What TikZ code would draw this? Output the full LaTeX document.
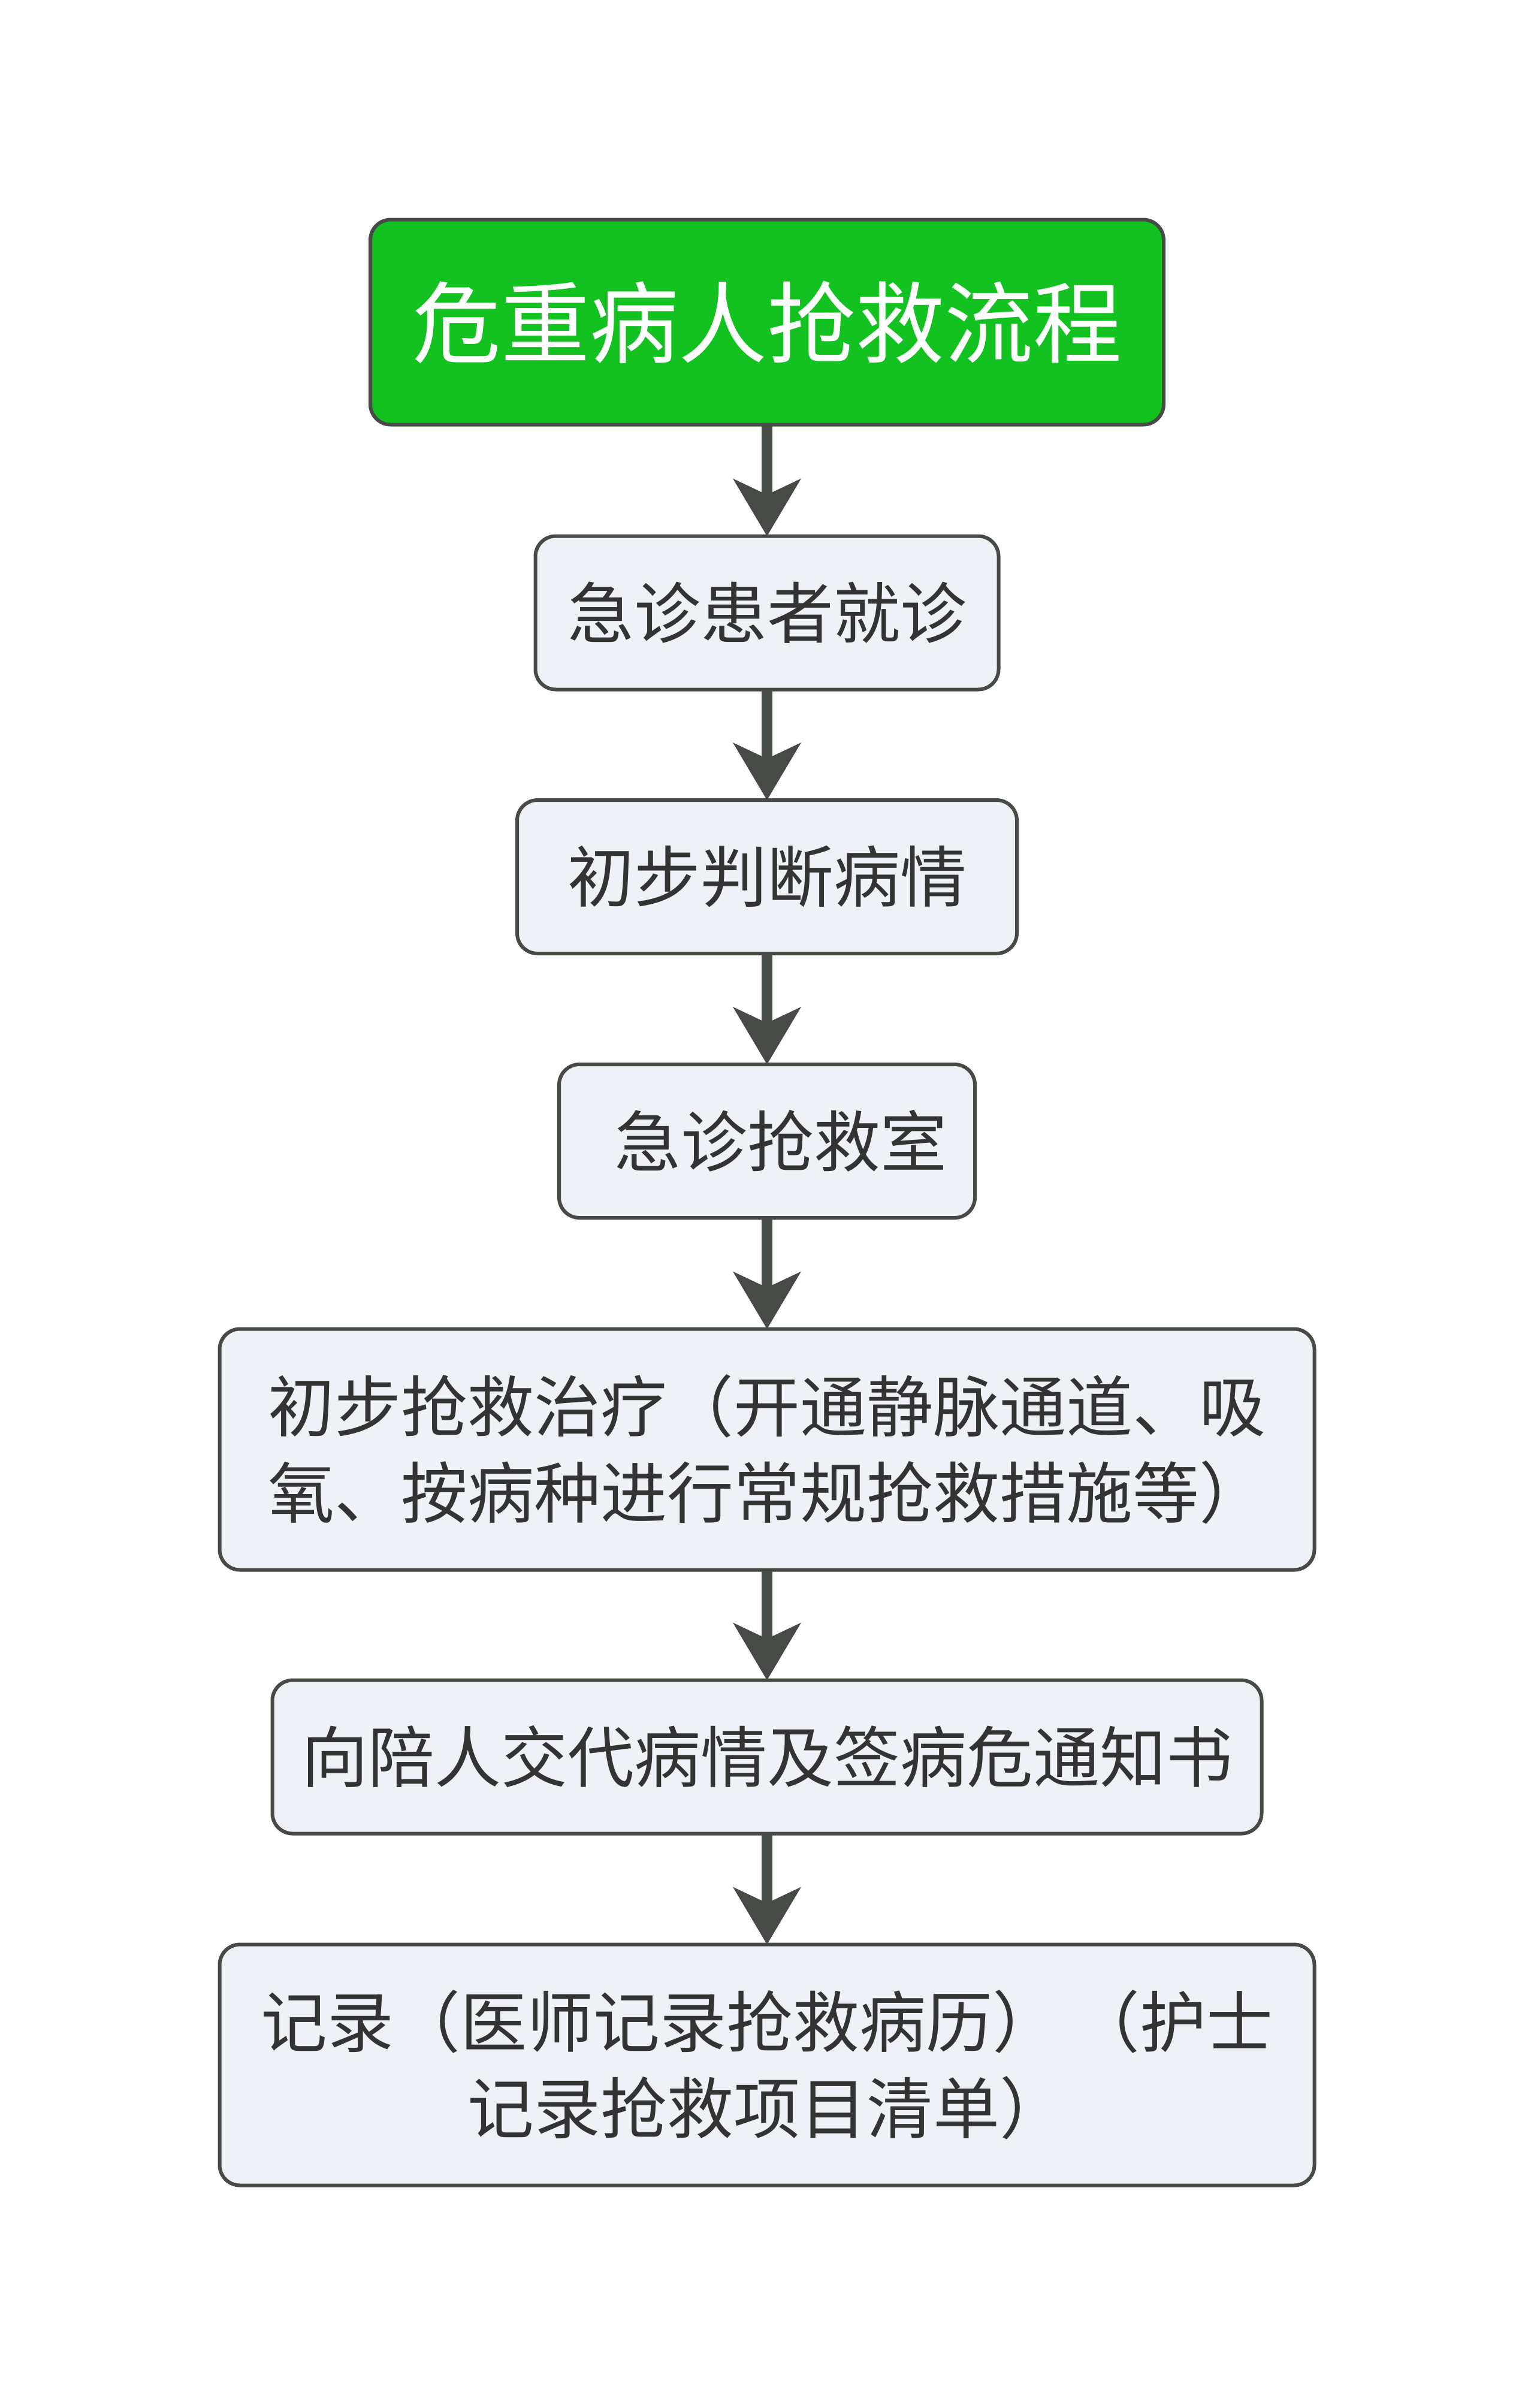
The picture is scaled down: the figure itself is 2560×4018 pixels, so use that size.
\documentclass[tikz,border=0pt]{standalone}
\usepackage{fontspec}
\setmainfont{Noto Sans CJK SC}
\usetikzlibrary{arrows.meta}
\definecolor{titlegreen}{RGB}{19,193,32}
\definecolor{boxfill}{RGB}{238,241,245}
\definecolor{edgegray}{RGB}{70,75,70}
\definecolor{textgray}{RGB}{51,51,51}
\begin{document}
\begin{tikzpicture}[x=0.25pt,y=-0.25pt,
  box/.style={draw=edgegray, line width=1.5pt, rounded corners=8.5pt, fill=boxfill,
    text=textgray, align=center, inner sep=0pt, outer sep=0pt,
    minimum height=64pt, font=\fontsize{27.75pt}{36pt}\selectfont},
  titlebox/.style={box, fill=titlegreen, text=white,
    font=\fontsize{37pt}{44pt}\selectfont},
  flow/.style={draw=edgegray, line width=4.5pt,
    -{Stealth[length=24pt,width=28.5pt,inset=6.75pt,line width=0pt]}}
]
\useasboundingbox (0,0) rectangle (2560,4018);
\fill[white] (0,0) rectangle (2560,4018);

\node[titlebox, minimum width=331pt, minimum height=85.5pt] (t) at (1280,537.5) {危重病人抢救流程};
\node[box, minimum width=193.25pt] (b2) at (1280,1022.5) {急诊患者就诊};
\node[box, minimum width=208.5pt] (b3) at (1280,1463) {初步判断病情};
\node[box, minimum width=173.5pt] (b4) at (1280,1904) {\hspace*{0.42em}急诊抢救室};
\node[box, minimum width=456.75pt, minimum height=100.5pt] (b5) at (1280,2418.5) {初步抢救治疗（开通静脉通道、吸\\氧、按病种进行常规抢救措施等）};
\node[box, minimum width=412.75pt] (b6) at (1280,2931.5) {向陪人交代病情及签病危通知书};
\node[box, minimum width=456.75pt, minimum height=100.5pt] (b7) at (1280,3445.5) {记录（医师记录抢救病历） （护士\\记录抢救项目清单）};

\draw[flow] (t.south) -- (b2.north);
\draw[flow] (b2.south) -- (b3.north);
\draw[flow] (b3.south) -- (b4.north);
\draw[flow] (b4.south) -- (b5.north);
\draw[flow] (b5.south) -- (b6.north);
\draw[flow] (b6.south) -- (b7.north);
\end{tikzpicture}
\end{document}
